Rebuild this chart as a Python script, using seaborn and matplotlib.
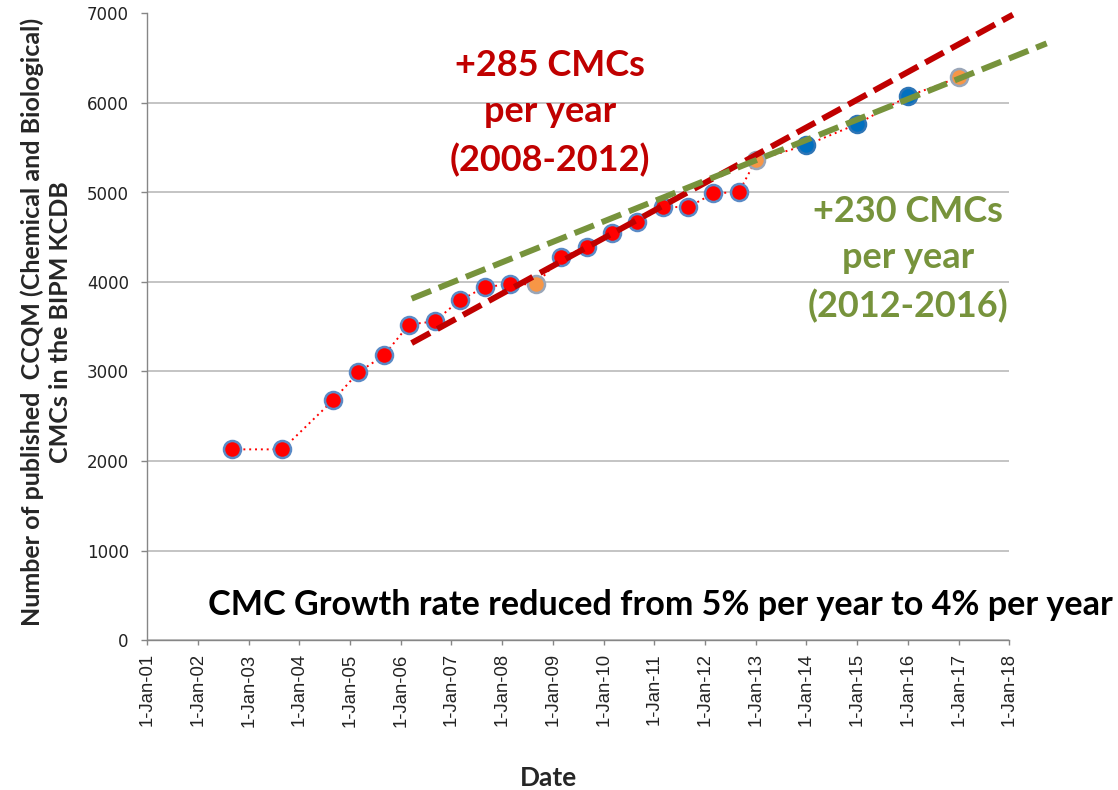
import matplotlib
matplotlib.use("Agg")
import matplotlib.pyplot as plt
import seaborn as sns
import pandas as pd

# ---- data ----
dates = ["2002-09-01", "2003-09-01", "2004-09-01", "2005-03-01", "2005-09-01",
         "2006-03-01", "2006-09-01", "2007-03-01", "2007-09-01", "2008-03-01",
         "2008-09-01", "2009-03-01", "2009-09-01", "2010-03-01", "2010-09-01",
         "2011-03-01", "2011-09-01", "2012-03-01", "2012-09-01", "2013-01-01",
         "2014-01-01", "2015-01-01", "2016-01-01", "2017-01-01"]
cmcs = [2130, 2130, 2680, 2990, 3180, 3525, 3560, 3795, 3945, 3975,
        3975, 4275, 4390, 4545, 4665, 4840, 4835, 4990, 5005, 5360,
        5530, 5765, 6075, 6285]
kinds = ["red"] * 10 + ["orange"] + ["red"] * 8 + ["orange", "blue", "blue", "blue", "orange"]

trend_red_x = ["2006-03-20", "2018-01-27"]
trend_red_y = [3318, 6987]
trend_green_x = ["2006-03-20", "2018-09-27"]
trend_green_y = [3814, 6666]

xtick_dates = [f"{y}-01-01" for y in range(2001, 2019)]
xtick_labels = [f"1-Jan-{y % 100:02d}" for y in range(2001, 2019)]
yticks = [0, 1000, 2000, 3000, 4000, 5000, 6000, 7000]

df = pd.DataFrame({"date": pd.to_datetime(dates), "cmcs": cmcs, "kind": kinds})
tdf_r = pd.DataFrame({"x": pd.to_datetime(trend_red_x), "y": trend_red_y})
tdf_g = pd.DataFrame({"x": pd.to_datetime(trend_green_x), "y": trend_green_y})

sns.set_theme(style="white")
plt.rcParams["font.family"] = ["Lato", "DejaVu Sans"]

fig = plt.figure(figsize=(11.18, 7.90), dpi=100)
ax = fig.add_axes([147.3 / 1118, 150 / 790, 862 / 1118, 626.5 / 790])

# dotted connecting line
sns.lineplot(data=df, x="date", y="cmcs", ax=ax, sort=False, estimator=None,
             color="#FF0000", linewidth=1.4, linestyle=(0, (1, 2)), zorder=2)

styles = {
    "red": dict(color="#FF0000", edgecolor="#5A8AC6"),
    "orange": dict(color="#F79646", edgecolor="#9AA6B8"),
    "blue": dict(color="#0070C0", edgecolor="#2E75B6"),
}
for k, st in styles.items():
    sub = df[df["kind"] == k]
    sns.scatterplot(data=sub, x="date", y="cmcs", ax=ax, s=150,
                    color=st["color"], edgecolor=st["edgecolor"], linewidth=1.8,
                    zorder=3)

sns.lineplot(data=tdf_r, x="x", y="y", ax=ax, color="#C00000", linewidth=4.3, zorder=4)
sns.lineplot(data=tdf_g, x="x", y="y", ax=ax, color="#77933C", linewidth=4.3, zorder=4)
for ln in ax.lines[-2:]:
    ln.set_dashes((3.5, 1.4))
    ln.set_clip_on(False)

ax.set_xlim(pd.Timestamp(xtick_dates[0]), pd.Timestamp(xtick_dates[-1]))
ax.set_ylim(0, 7000)
ax.set_xticks(pd.to_datetime(xtick_dates))
ax.set_xticklabels(xtick_labels, rotation=90, fontsize=13.3,
                   family=["Liberation Sans"], color="#222222")
ax.set_yticks(yticks)
ax.set_yticklabels([str(v) for v in yticks], fontsize=12,
                   family=["DejaVu Sans"], color="#222222")

ax.yaxis.grid(True, color="#BFBFBF", linewidth=1.3)
ax.xaxis.grid(False)
for side in ["top", "right"]:
    ax.spines[side].set_visible(False)
for side in ["left", "bottom"]:
    ax.spines[side].set_color("#868686")
    ax.spines[side].set_linewidth(1.0)
ax.tick_params(axis="x", direction="out", length=3.6, width=1.0, color="#868686",
               bottom=True, pad=6)
ax.tick_params(axis="y", direction="out", length=4.3, width=1.0, color="#868686",
               left=True, pad=9)

ax.set_xlabel("Date", fontsize=19, fontweight="bold")
ax.xaxis.set_label_coords((548 - 147.3) / 862, -(778 - 640) / 626.5)
ax.xaxis.label.set_va("center")
ax.set_ylabel("Number of published  CCQM (Chemical and Biological)\nCMCs in the BIPM KCDB",
              fontsize=18, fontweight="bold", linespacing=1.25)
ax.yaxis.set_label_coords(-(147.3 - 46) / 862, (640 - 322) / 626.5)
ax.yaxis.label.set_va("center")

fig.text(550 / 1118, 1 - 113 / 790, "+285 CMCs\nper year\n(2008-2012)",
         color="#C00000", fontsize=26, fontweight="bold", ha="center", va="center",
         linespacing=1.5)
fig.text(908 / 1118, 1 - 259 / 790, "+230 CMCs\nper year\n(2012-2016)",
         color="#77933C", fontsize=26, fontweight="bold", ha="center", va="center",
         linespacing=1.5)
fig.text(660 / 1118, 1 - 605 / 790,
         "CMC Growth rate reduced from 5% per year to 4% per year",
         color="black", fontsize=24.6, fontweight="bold", ha="center", va="center")

fig.savefig("out.png", dpi=100)
